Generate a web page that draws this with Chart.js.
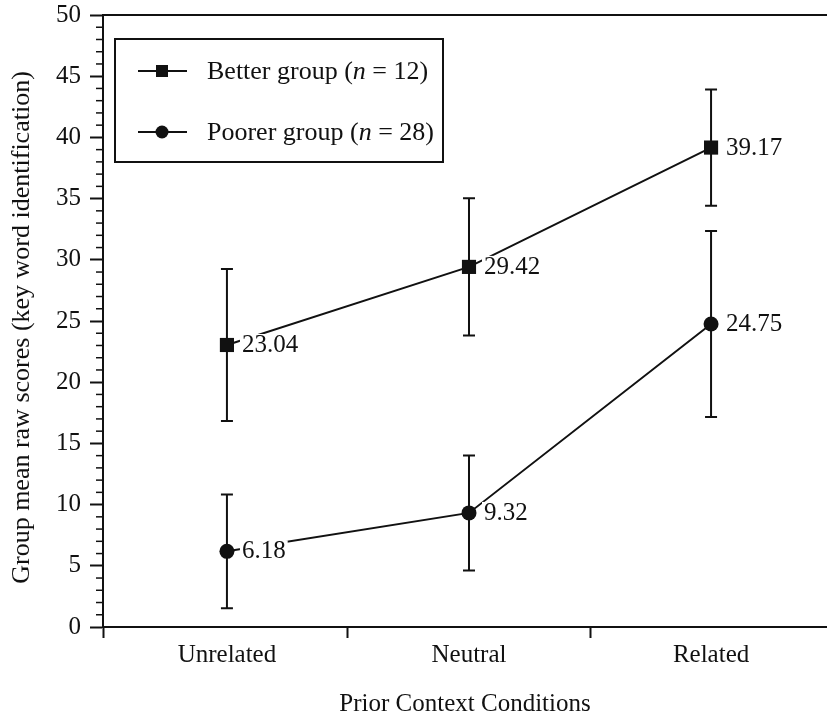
<!DOCTYPE html>
<html>
<head>
<meta charset="utf-8">
<script src="https://cdn.jsdelivr.net/npm/chart.js@4.4.1/dist/chart.umd.min.js"></script>
<style>
  body { margin: 0; background: #fff; }
  #wrap { width: 827px; height: 719px; }
</style>
</head>
<body>
<div id="wrap"><canvas id="chart" width="827" height="719"></canvas></div>
<script>
// values
const categories = ['Unrelated', 'Neutral', 'Related'];
const seriesNames = ['Better group', 'Poorer group'];
const groupSizes = [12, 28];
const betterMeans = [23.04, 29.42, 39.17];
const poorerMeans = [6.18, 9.32, 24.75];
const betterErrors = [6.2, 5.6, 4.75];
const poorerErrors = [4.65, 4.7, 7.6];
const yTicks = [0, 5, 10, 15, 20, 25, 30, 35, 40, 45, 50];
const yMinorStep = 1;

const FONT = "'Liberation Serif', 'Times New Roman', serif";
const INK = '#111';
const font = { family: FONT, size: 25 };

const errorBars = {
    id: 'errorBars',
    beforeDatasetsDraw(chart) {
        const { ctx, scales: { x, y } } = chart;
        ctx.save();
        ctx.strokeStyle = INK;
        ctx.lineWidth = 2;
        chart.data.datasets.forEach(ds => {
            ds.data.forEach((p, i) => {
                const px = x.getPixelForValue(p.x);
                const top = y.getPixelForValue(p.y + ds.errors[i]);
                const bot = y.getPixelForValue(p.y - ds.errors[i]);
                ctx.beginPath();
                ctx.moveTo(px, top); ctx.lineTo(px, bot);
                ctx.moveTo(px - 6, top); ctx.lineTo(px + 6, top);
                ctx.moveTo(px - 6, bot); ctx.lineTo(px + 6, bot);
                ctx.stroke();
            });
        });
        ctx.restore();
    }
};

// numbers next to the markers, on a white patch that hides the line
const valueLabels = {
    id: 'valueLabels',
    afterDatasetsDraw(chart) {
        const { ctx } = chart;
        ctx.save();
        ctx.font = `25px ${FONT}`;
        ctx.textBaseline = 'alphabetic';
        chart.data.datasets.forEach((ds, di) => {
            chart.getDatasetMeta(di).data.forEach((pt, i) => {
                const txt = ds.data[i].y.toFixed(2);
                const w = ctx.measureText(txt).width;
                const tx = pt.x + 15;
                ctx.fillStyle = '#fff';
                ctx.fillRect(tx - 2, pt.y - 11, w + 4, 22);
                ctx.fillStyle = INK;
                ctx.fillText(txt, tx, pt.y + 7);
            });
        });
        ctx.restore();
    }
};

const minorTicks = {
    id: 'minorTicks',
    afterDraw(chart) {
        const { ctx, scales: { y }, chartArea } = chart;
        ctx.save();
        ctx.strokeStyle = INK;
        ctx.lineWidth = 1.5;
        for (let v = y.min; v <= y.max; v += yMinorStep) {
            if (yTicks.includes(v)) continue;
            const py = y.getPixelForValue(v);
            ctx.beginPath();
            ctx.moveTo(chartArea.left - 7, py);
            ctx.lineTo(chartArea.left, py);
            ctx.stroke();
        }
        // top frame line
        ctx.lineWidth = 2;
        ctx.beginPath();
        ctx.moveTo(chartArea.left, chartArea.top);
        ctx.lineTo(chart.width, chartArea.top);
        ctx.stroke();
        ctx.restore();
    }
};

const legendBox = {
    id: 'legendBox',
    afterDraw(chart) {
        const { ctx } = chart;
        ctx.save();
        ctx.strokeStyle = INK;
        ctx.fillStyle = INK;
        ctx.lineWidth = 2;
        ctx.strokeRect(115, 39, 328, 123);
        const rows = [71, 132];
        chart.data.datasets.forEach((ds, i) => {
            const cy = rows[i];
            ctx.beginPath();
            ctx.moveTo(138, cy); ctx.lineTo(187, cy);
            ctx.stroke();
            ctx.beginPath();
            if (ds.pointStyle === 'rect') ctx.rect(156, cy - 6, 12, 12);
            else ctx.arc(162, cy, 6.5, 0, Math.PI * 2);
            ctx.fill();
            let tx = 207;
            const base = cy + 8;
            ctx.font = `26px ${FONT}`;
            const a = seriesNames[i] + ' (';
            ctx.fillText(a, tx, base);
            tx += ctx.measureText(a).width;
            ctx.font = `italic 26px ${FONT}`;
            ctx.fillText('n', tx, base);
            tx += ctx.measureText('n').width;
            ctx.font = `26px ${FONT}`;
            ctx.fillText(' = ' + groupSizes[i] + ')', tx, base);
        });
        ctx.restore();
    }
};

new Chart(document.getElementById('chart'), {
    type: 'line',
    data: {
        datasets: [{
            label: seriesNames[0],
            data: betterMeans.map((v, i) => ({ x: i, y: v })),
            errors: betterErrors,
            borderColor: INK,
            backgroundColor: INK,
            borderWidth: 2,
            pointStyle: 'rect',
            pointRadius: 10,
            pointBorderWidth: 0
        }, {
            label: seriesNames[1],
            data: poorerMeans.map((v, i) => ({ x: i, y: v })),
            errors: poorerErrors,
            borderColor: INK,
            backgroundColor: INK,
            borderWidth: 2,
            pointStyle: 'circle',
            pointRadius: 7.5,
            pointBorderWidth: 0
        }]
    },
    options: {
        responsive: false,
        animation: false,
        layout: { autoPadding: false, padding: { left: 0, right: 0, top: 15, bottom: 0 } },
        plugins: { legend: { display: false }, tooltip: { enabled: false } },
        scales: {
            x: {
                type: 'linear',
                min: -0.512,
                max: 2.479,
                afterBuildTicks: s => { s.ticks = [-0.512, 0, 0.5, 1, 1.5, 2].map(v => ({ value: v })); },
                afterFit: s => { s.height = 92; s.paddingLeft = 0; s.paddingRight = 0; },
                border: { color: INK, width: 2 },
                grid: {
                    drawOnChartArea: false,
                    tickLength: 11,
                    tickWidth: 2,
                    tickColor: c => (c.tick && Number.isInteger(c.tick.value)) ? 'rgba(0,0,0,0)' : INK
                },
                ticks: {
                    autoSkip: false,
                    maxRotation: 0,
                    padding: 2,
                    color: INK,
                    font,
                    callback: v => Number.isInteger(v) ? categories[v] : ''
                },
                title: {
                    display: true,
                    text: 'Prior Context Conditions',
                    color: INK,
                    font,
                    padding: { top: 0, bottom: 0 }
                }
            },
            y: {
                min: 0,
                max: 50,
                afterBuildTicks: s => { s.ticks = yTicks.map(v => ({ value: v })); },
                afterFit: s => { s.width = 103; s.paddingTop = 0; s.paddingBottom = 0; },
                border: { color: INK, width: 2 },
                grid: { drawOnChartArea: false, tickLength: 13, tickWidth: 2, tickColor: INK },
                ticks: { padding: 9, color: INK, font },
                title: {
                    display: true,
                    text: 'Group mean raw scores (key word identification)  ',
                    color: INK,
                    font: { family: FONT, size: 26 },
                    padding: { top: 7, bottom: 0 }
                }
            }
        }
    },
    plugins: [errorBars, valueLabels, minorTicks, legendBox]
});
</script>
</body>
</html>
